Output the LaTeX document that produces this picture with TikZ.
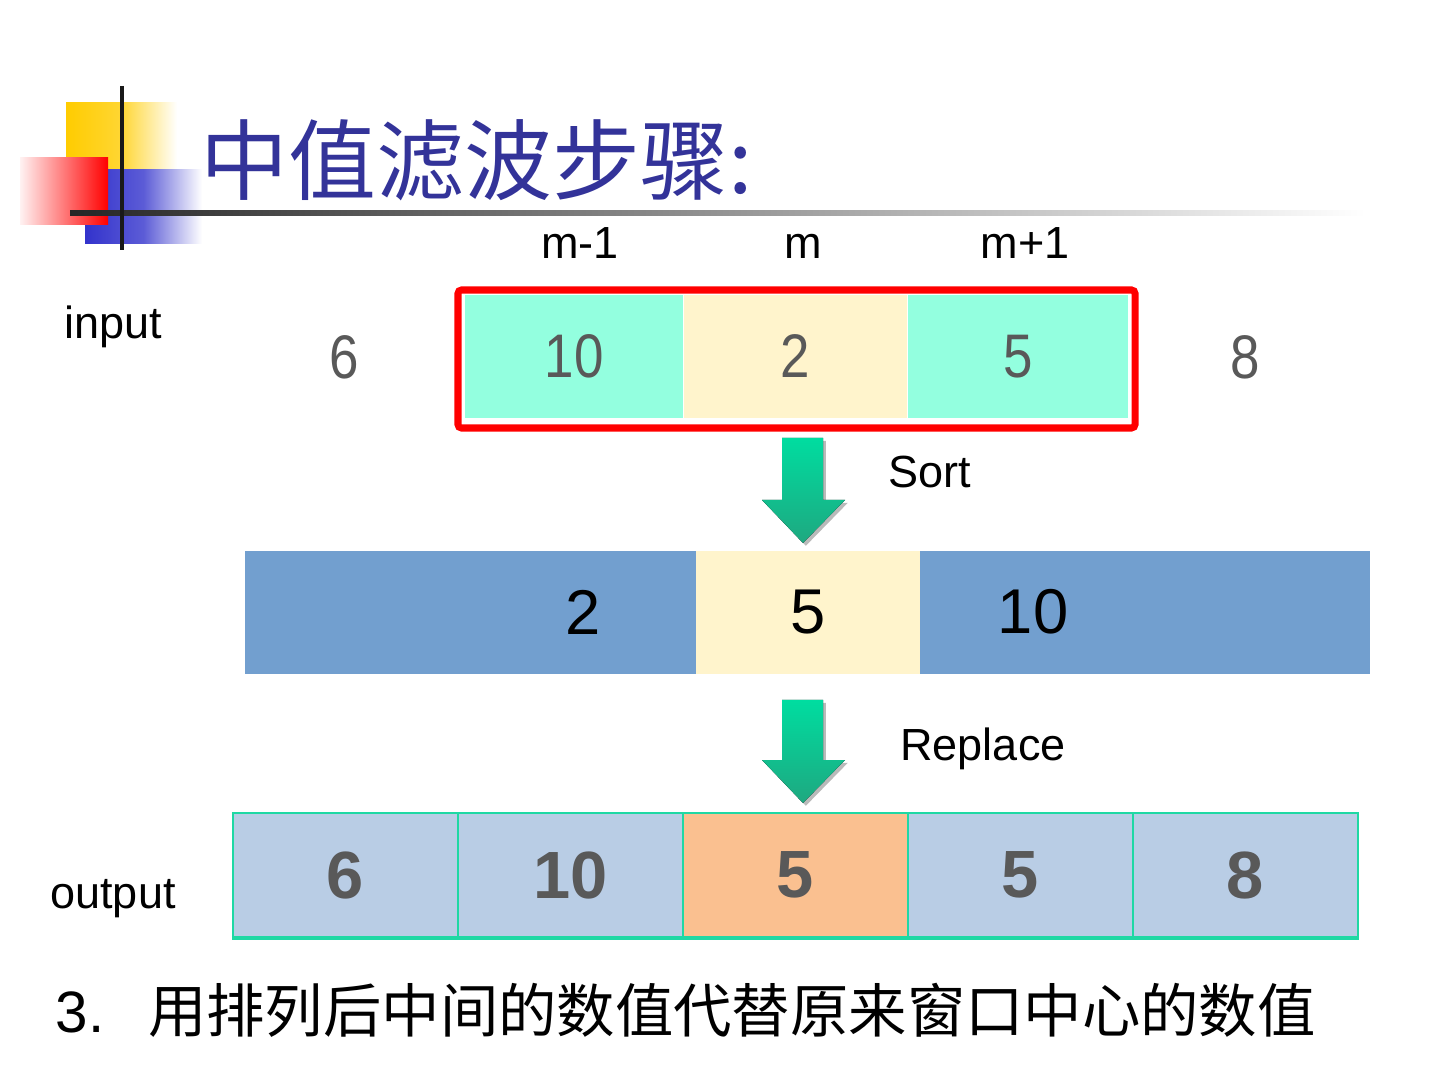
\documentclass[tikz,border=0pt]{standalone}
\usepackage{fontspec}
\setmainfont{Liberation Sans}
\newfontfamily\cjk{Noto Sans CJK SC}
\newfontfamily\numfont[FakeStretch=0.86]{Liberation Sans}
\usetikzlibrary{shadows}
\definecolor{titleblue}{RGB}{51,51,153}
\definecolor{logoyellow}{RGB}{255,204,0}
\definecolor{logored}{RGB}{255,0,0}
\definecolor{logoblue}{RGB}{51,51,204}
\definecolor{tealcell}{RGB}{147,255,223}
\definecolor{creamcell}{RGB}{255,244,204}
\definecolor{bluecell}{RGB}{114,159,207}
\definecolor{lightcell}{RGB}{185,205,229}
\definecolor{orangecell}{RGB}{250,192,144}
\definecolor{greenborder}{RGB}{31,216,164}
\definecolor{graytext}{RGB}{89,89,89}
\definecolor{arrowtop}{RGB}{0,221,160}
\definecolor{arrowbot}{RGB}{30,168,128}
\tikzset{
  lbl/.style={font=\fontsize{12.8}{14}\selectfont, inner sep=0},
  rowone/.style={inner sep=0, minimum height=1.23cm, font=\numfont\fontsize{17.5}{20}\selectfont, text=graytext},
  rowtwo/.style={inner sep=0, font=\fontsize{18}{20}\selectfont, text=black},
  rowthree/.style={draw=greenborder, line width=0.6pt, inner sep=0, minimum width=2.25cm, minimum height=1.24cm, fill=lightcell, font=\bfseries\fontsize{19}{21}\selectfont, text=graytext},
  blockarrow/.style={top color=arrowtop, bottom color=arrowbot, draw=none,
     drop shadow={shadow xshift=0.8pt, shadow yshift=-0.8pt, opacity=0.45, fill=black!60}}
}
\begin{document}
\begin{tikzpicture}[x=0.01cm,y=-0.01cm]
\useasboundingbox (0,0) rectangle (1440,1080);
% logo
\fill[left color=logoyellow, right color=white, middle color=logoyellow!80] (66,103) rectangle (177,212);
\fill[left color=logoblue, right color=white, middle color=logoblue!80] (85,170) rectangle (202,244);
\fill[left color=logored!5, right color=logored] (20,158) rectangle (108,225);
\fill[left color=black!85, right color=white] (70,211) rectangle (1365,216);
\draw[line width=1.2pt, black!90] (122,86) -- (122,250);
% title
\node[anchor=west, inner sep=0, text=titleblue, font=\cjk\fontsize{25}{28}\selectfont] (title) at (200,160) {中值滤波步骤:};
% labels
\node[lbl, anchor=base] (lm1) at (580,259) {m-1};
\node[lbl, anchor=base] (lm) at (803,259) {m};
\node[lbl, anchor=base] (lp1) at (1025,259) {m+1};
\node[lbl, anchor=base] (input) at (113,339) {input};
\node[lbl, anchor=base] (output) at (113,908) {output};
% row 1
\node[rowone] (i1) at (344,357) {6};
\node[rowone, fill=tealcell, minimum width=2.18cm] (i2) at (574,356.5) {10};
\node[rowone, fill=creamcell, minimum width=2.23cm] (i3) at (795.5,356.5) {2};
\node[rowone, fill=tealcell, minimum width=2.20cm] (i4) at (1018,356.5) {5};
\node[rowone] (i5) at (1245,357) {8};
\draw[logored, line width=2pt, rounded corners=1pt] (458,290) rectangle (1135,428);
% arrow 1
\fill[blockarrow] (782,438) -- (823,438) -- (823,500) -- (845,500) -- (803,543) -- (762,500) -- (782,500) -- cycle;
\node[lbl, anchor=base] (sort) at (930,488) {Sort};
% row 2
\fill[bluecell] (245,551) rectangle (696,674);
\fill[creamcell] (696,551) rectangle (920,674);
\fill[bluecell] (920,551) rectangle (1370,674);
\node[rowtwo] (s1) at (583,612) {2};
\node[rowtwo] (s2) at (808,612) {5};
\node[rowtwo] (s3) at (1033,612) {10};
% arrow 2
\fill[blockarrow] (782,700) -- (823,700) -- (823,760) -- (845,760) -- (803,803) -- (762,760) -- (782,760) -- cycle;
\node[lbl, anchor=base] (replace) at (983,760) {Replace};
% row 3
\node[rowthree] (o1) at (345.5,875) {6};
\node[rowthree] (o2) at (570.5,875) {10};
\node[rowthree, fill=orangecell] (o3) at (795.5,875) {5};
\node[rowthree] (o4) at (1020.5,875) {5};
\node[rowthree] (o5) at (1245.5,875) {8};
\draw[greenborder, line width=1.2pt] (o1.south west) -- (o5.south east);
% bottom text
\node[anchor=west, inner sep=0, font=\fontsize{16.6}{20}\selectfont] (step) at (55,1010) {3.\hspace{0.75em}{\cjk 用排列后中间的数值代替原来窗口中心的数值}};
\end{tikzpicture}
\end{document}
